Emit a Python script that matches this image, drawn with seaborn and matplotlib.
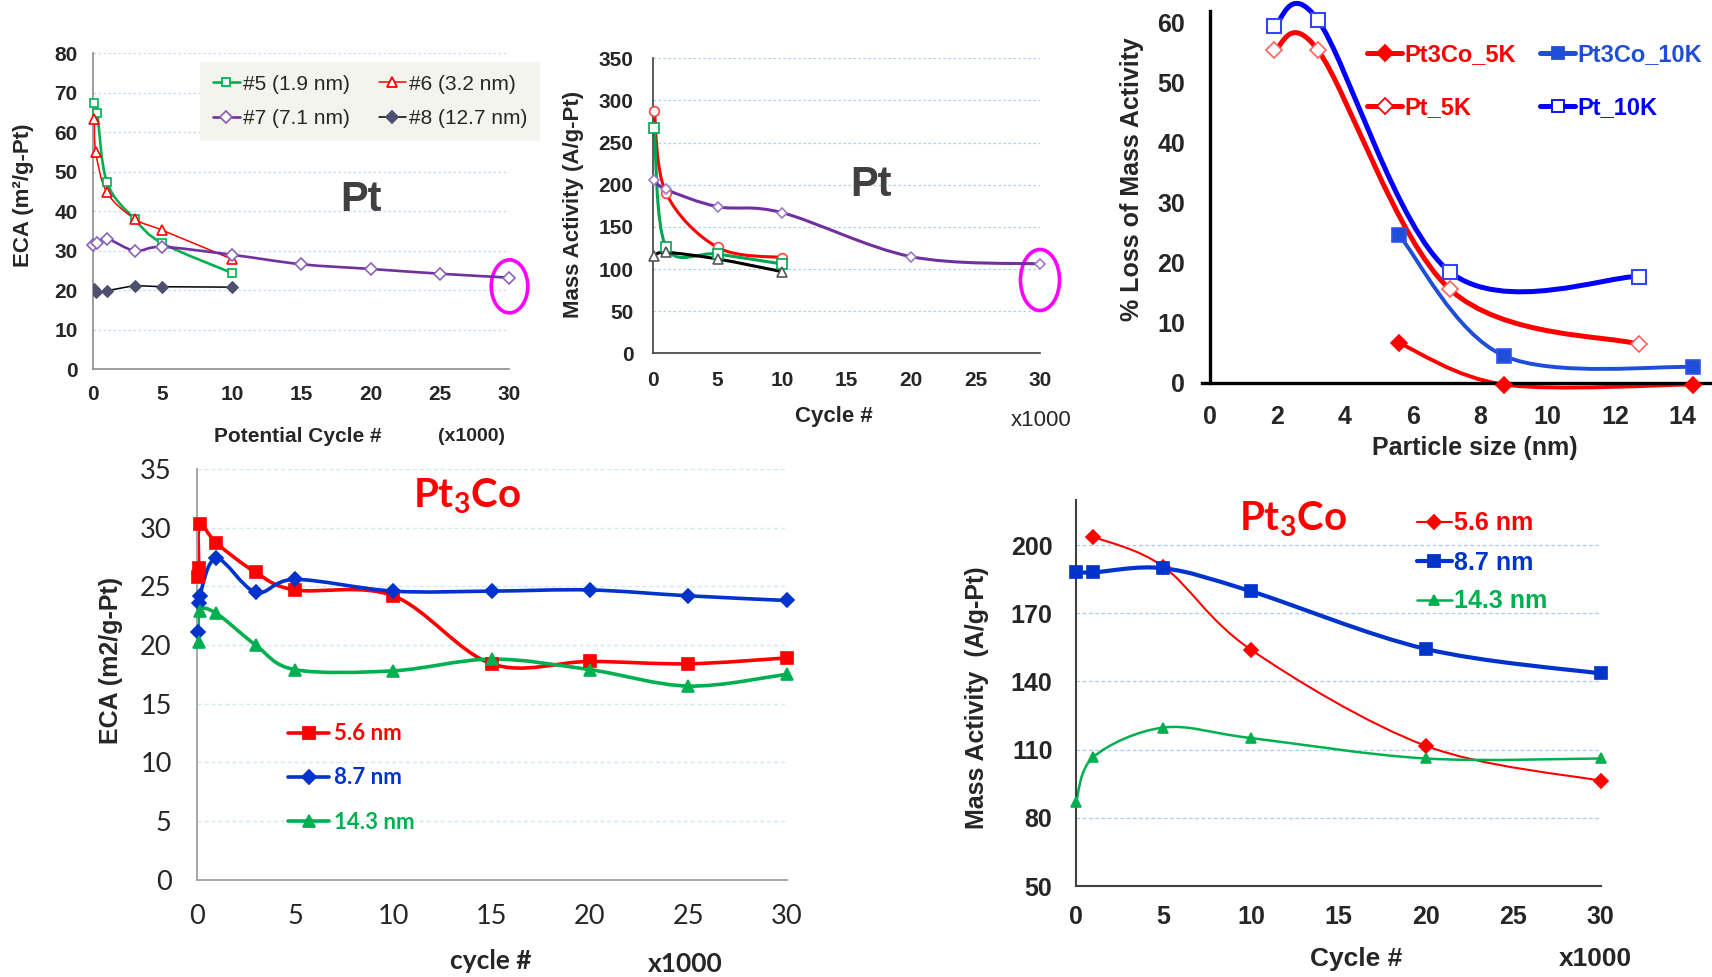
import numpy as np
import matplotlib
matplotlib.use("Agg")
import matplotlib.pyplot as plt
import seaborn as sns
from matplotlib.path import Path
from matplotlib.patches import PathPatch, Ellipse
from matplotlib.lines import Line2D
from matplotlib.ticker import MultipleLocator
from matplotlib import font_manager as fm
import matplotlib.transforms as mtransforms

# ---------------- data ----------------
# (a) Pt: ECA vs potential cycle (x1000)
pt_eca_cyc_5 = [0.1, 0.3, 1, 3, 5, 10]
pt_eca_5 = [67.3, 65.0, 47.4, 38.0, 31.9, 24.4]
pt_eca_cyc_6 = [0.1, 0.2, 1, 3, 5, 10]
pt_eca_6 = [63.4, 55.0, 44.8, 38.1, 35.2, 27.9]
pt_eca_cyc_7 = [0, 0.3, 1, 3, 5, 10, 15, 20, 25, 30]
pt_eca_7 = [31.4, 32.0, 33.1, 30.0, 31.0, 29.0, 26.6, 25.4, 24.2, 23.2]
pt_eca_cyc_8 = [0.05, 0.2, 1, 3, 5, 10]
pt_eca_8 = [20.3, 19.5, 19.9, 21.2, 20.9, 20.8]
pt_eca_labels = ["#5 (1.9 nm)", "#6 (3.2 nm)", "#7 (7.1 nm)", "#8 (12.7 nm)"]

# (b) Pt: mass activity vs cycle (x1000)
pt_ma_cyc_a = [0.1, 1, 5, 10]
pt_ma_red = [287.5, 190.6, 125.7, 113.5]
pt_ma_green = [267.7, 126.5, 117.8, 106.0]
pt_ma_black = [115.5, 119.8, 111.9, 96.9]
pt_ma_cyc_p = [0.1, 1, 5, 10, 20, 30]
pt_ma_purple = [205.6, 194.5, 174.0, 166.9, 114.7, 106.0]

# (c) % loss of mass activity vs particle size
pt_size = [1.9, 3.2, 7.1, 12.7]
pt_loss_10k = [59.4, 60.4, 18.5, 17.7]
pt_loss_5k = [55.4, 55.4, 15.6, 6.4]
pt3co_size = [5.6, 8.7, 14.3]
pt3co_loss_10k = [24.6, 4.5, 2.6]
pt3co_loss_5k = [6.6, -0.3, -0.3]
loss_labels = ["Pt3Co_5K", "Pt_5K", "Pt3Co_10K", "Pt_10K"]

# (d) Pt3Co: ECA vs cycle (x1000)
co_eca_cyc_56 = [0.05, 0.1, 0.15, 1, 3, 5, 10, 15, 20, 25, 30]
co_eca_56 = [25.8, 26.6, 30.3, 28.7, 26.2, 24.7, 24.2, 18.4, 18.6, 18.4, 18.9]
co_eca_cyc_87 = [0.05, 0.1, 0.15, 1, 3, 5, 10, 15, 20, 25, 30]
co_eca_87 = [21.1, 23.6, 24.2, 27.4, 24.5, 25.6, 24.6, 24.6, 24.7, 24.2, 23.8]
co_eca_cyc_143 = [0.1, 0.15, 1, 3, 5, 10, 15, 20, 25, 30]
co_eca_143 = [20.3, 22.9, 22.7, 20.0, 17.9, 17.8, 18.8, 17.9, 16.5, 17.5]
co_labels = ["5.6 nm", "8.7 nm", "14.3 nm"]

# (e) Pt3Co: mass activity vs cycle (x1000)
co_ma_cyc_56 = [1, 5, 10, 20, 30]
co_ma_56 = [203.6, 190.5, 154.0, 111.7, 96.3]
co_ma_cyc = [0, 1, 5, 10, 20, 30]
co_ma_87 = [188.2, 188.0, 189.8, 179.7, 154.3, 143.5]
co_ma_143 = [86.9, 106.8, 119.7, 115.1, 106.1, 106.1]

# ---------------- style ----------------
sns.set_theme(style="white")
names = {f.name for f in fm.fontManager.ttflist}
NARROW = "Liberation Sans Narrow" if "Liberation Sans Narrow" in names else "Liberation Sans"
ARIAL = "Liberation Sans"
CAL = "Lato" if "Lato" in names else "Liberation Sans"
plt.rcParams["font.family"] = [ARIAL, "DejaVu Sans"]
plt.rcParams["axes.unicode_minus"] = False

W, H = 1712, 977
fig = plt.figure(figsize=(W / 100, H / 100), dpi=100)
fig.patch.set_facecolor("white")


def rect(l, t, r, b):
    return [l / W, 1 - b / H, (r - l) / W, (b - t) / H]


def fx(x):
    return x / W


def fy(y):
    return 1 - y / H


def smooth(ax, x, y, color, lw, z=2):
    p = np.column_stack([x, y]).astype(float)
    n = len(p)
    verts = [p[0]]
    codes = [Path.MOVETO]
    for i in range(n - 1):
        a = p[i - 1] if i > 0 else p[i]
        b = p[i]
        c = p[i + 1]
        d = p[i + 2] if i + 2 < n else p[i + 1]
        verts += [b + (c - a) / 6, c - (d - b) / 6, c]
        codes += [Path.CURVE4] * 3
    ax.add_patch(PathPatch(Path(verts, codes), fc="none", ec=color, lw=lw,
                           zorder=z, capstyle="round", joinstyle="round", clip_on=False))


def marks(ax, x, y, marker, ms, mfc, mec, mew=1.2, z=3):
    sns.lineplot(x=x, y=y, ax=ax, estimator=None, sort=False, linestyle="none",
                 marker=marker, markersize=ms, markerfacecolor=mfc,
                 markeredgecolor=mec, markeredgewidth=mew, color=mec,
                 zorder=z, legend=False, clip_on=False)


def style_spines(ax, color, lw):
    for s in ["top", "right"]:
        ax.spines[s].set_visible(False)
    for s in ["left", "bottom"]:
        ax.spines[s].set_color(color)
        ax.spines[s].set_linewidth(lw)


def ticklabels(ax, family, size, weight):
    for lab in ax.get_xticklabels() + ax.get_yticklabels():
        lab.set_fontfamily(family)
        lab.set_fontsize(size)
        lab.set_fontweight(weight)


def handle(color, lw, marker, ms, mfc, mec):
    return Line2D([], [], color=color, lw=lw, marker=marker, ms=ms, mfc=mfc, mec=mec, mew=1.3)


GREEN = "#00b050"
RED = "#ff0000"
PURPLE = "#7030a0"
BLUE = "#0033cc"

# ================= Panel (a) =================
ax1 = fig.add_axes(rect(93, 53.3, 509.5, 369.3))
ax1.set_xlim(0, 30)
ax1.set_ylim(0, 80)
smooth(ax1, pt_eca_cyc_5, pt_eca_5, GREEN, 1.9)
smooth(ax1, pt_eca_cyc_6, pt_eca_6, RED, 1.1)
smooth(ax1, pt_eca_cyc_7, pt_eca_7, PURPLE, 1.9)
sns.lineplot(x=pt_eca_cyc_8, y=pt_eca_8, ax=ax1, estimator=None, sort=False,
             color="black", lw=1.1, marker="D", markersize=6.5,
             markerfacecolor="#4f4f6f", markeredgecolor="#4f4f6f", zorder=3, legend=False)
marks(ax1, pt_eca_cyc_5, pt_eca_5, "s", 6, "white", GREEN)
marks(ax1, pt_eca_cyc_6, pt_eca_6, "^", 7, "white", RED)
marks(ax1, pt_eca_cyc_7, pt_eca_7, "D", 6, "white", "#8a63b8")
style_spines(ax1, "#8c8c8c", 1.2)
ax1.xaxis.set_major_locator(MultipleLocator(5))
ax1.yaxis.set_major_locator(MultipleLocator(10))
ax1.grid(axis="y", color="#c6d9f1", lw=0.9, ls=(0, (2, 2)))
ax1.tick_params(axis="x", direction="in", length=6, color="#8c8c8c", pad=11)
ax1.tick_params(axis="y", length=0, pad=11)
ticklabels(ax1, NARROW, 15, "bold")
ax1.set_ylabel("ECA (m²/g-Pt)", fontsize=16, fontweight="bold", va="center")
ax1.yaxis.set_label_coords(fx(24), fy(195), transform=fig.transFigure)
ax1.set_xlabel("Potential Cycle #", fontsize=15, fontweight="bold", va="center", family=NARROW)
ax1.xaxis.set_label_coords(fx(298), fy(436.7), transform=fig.transFigure)
fig.text(fx(471.8), fy(436.7), "(x1000)", fontsize=14, fontweight="bold", family=NARROW,
         ha="center", va="center")
ax1.text(fx(361), fy(200), "Pt", transform=fig.transFigure, fontsize=30, fontweight="bold",
         color="#404040", ha="center", va="center")
h1 = [handle(GREEN, 1.9, "s", 6, "white", GREEN),
      handle(PURPLE, 1.9, "D", 6, "white", "#8a63b8"),
      handle(RED, 1.1, "^", 7, "white", RED),
      handle("black", 1.1, "D", 6, "#4f4f6f", "#4f4f6f")]
l1 = [pt_eca_labels[0], pt_eca_labels[2], pt_eca_labels[1], pt_eca_labels[3]]
ax1.legend(h1, l1, loc="upper left", bbox_to_anchor=(fx(200), fy(62)),
           bbox_transform=fig.transFigure, ncol=2, frameon=True, facecolor="#f4f4ef",
           edgecolor="none", fancybox=False, framealpha=1, fontsize=15,
           handlelength=1.3, handletextpad=0.15, columnspacing=1.4, borderpad=0.6,
           labelspacing=0.75, borderaxespad=0)
ax1.add_patch(Ellipse((0, 0), 0.365, 0.53, fc="none", ec="#ff00ff", lw=2.6, clip_on=False,
                      transform=fig.dpi_scale_trans + mtransforms.ScaledTranslation(30, 21, ax1.transData)))

# ================= Panel (b) =================
ax2 = fig.add_axes(rect(653, 58.3, 1040, 353.3))
ax2.set_xlim(0, 30)
ax2.set_ylim(0, 350)
smooth(ax2, pt_ma_cyc_a, pt_ma_red, RED, 2.2)
smooth(ax2, pt_ma_cyc_a, pt_ma_green, "#00a550", 2.2)
smooth(ax2, pt_ma_cyc_a, pt_ma_black, "black", 2.2)
smooth(ax2, pt_ma_cyc_p, pt_ma_purple, PURPLE, 2.2)
marks(ax2, pt_ma_cyc_a, pt_ma_red, "o", 7, "white", "#ff4040")
marks(ax2, pt_ma_cyc_a, pt_ma_green, "s", 7, "white", "#00a550")
marks(ax2, pt_ma_cyc_a, pt_ma_black, "^", 7, "white", "#555555")
marks(ax2, pt_ma_cyc_p, pt_ma_purple, "D", 5, "white", "#9c7cc8")
style_spines(ax2, "#404040", 1.2)
ax2.xaxis.set_major_locator(MultipleLocator(5))
ax2.xaxis.set_minor_locator(MultipleLocator(2.5))
ax2.yaxis.set_major_locator(MultipleLocator(50))
ax2.grid(axis="y", color="#a8d0f8", lw=0.9, ls=(0, (2, 2)))
ax2.tick_params(axis="x", which="both", direction="in", length=6, color="#404040", pad=13)
ax2.tick_params(axis="y", length=0, pad=14)
ticklabels(ax2, NARROW, 15, "bold")
ax2.set_ylabel("Mass Activity (A/g-Pt)", fontsize=16, fontweight="bold", va="center")
ax2.yaxis.set_label_coords(fx(573.6), fy(204), transform=fig.transFigure)
ax2.set_xlabel("Cycle #", fontsize=16, fontweight="bold", va="center", family=NARROW)
ax2.xaxis.set_label_coords(fx(834), fy(416.7), transform=fig.transFigure)
fig.text(fx(1041.4), fy(420.7), "x1000", fontsize=16, ha="center", va="center", family=NARROW)
ax2.text(fx(871), fy(185), "Pt", transform=fig.transFigure, fontsize=30, fontweight="bold",
         color="#404040", ha="center", va="center")
ax2.add_patch(Ellipse((0, 0), 0.39, 0.61, fc="none", ec="#ff00ff", lw=2.6, clip_on=False,
                      transform=fig.dpi_scale_trans + mtransforms.ScaledTranslation(30, 87, ax2.transData)))

# ================= Panel (c) =================
ax3 = fig.add_axes(rect(1201.6, 10.7, 1711.3, 382.7))
ax3.set_xlim(-0.25, 14.85)
ax3.set_ylim(0, 62)
smooth(ax3, pt_size, pt_loss_10k, "#0000ff", 3.6)
smooth(ax3, pt_size, pt_loss_5k, RED, 3.6)
smooth(ax3, pt3co_size, pt3co_loss_10k, "#1f4fd8", 2.8)
smooth(ax3, pt3co_size, pt3co_loss_5k, RED, 2.8)
marks(ax3, pt_size, pt_loss_10k, "s", 10, "white", "#3344ff", mew=1.5)
marks(ax3, pt_size, pt_loss_5k, "D", 8, "white", "#ff6060", mew=1.2)
marks(ax3, pt3co_size, pt3co_loss_10k, "s", 10, "#1f4fd8", "#3355ee")
marks(ax3, pt3co_size, pt3co_loss_5k, "D", 8, RED, RED)
style_spines(ax3, "black", 2.4)
ax3.spines["left"].set_position(("data", 0))
ax3.xaxis.set_major_locator(MultipleLocator(2))
ax3.xaxis.set_minor_locator(MultipleLocator(1))
ax3.yaxis.set_major_locator(MultipleLocator(10))
ax3.yaxis.set_minor_locator(MultipleLocator(2))
ax3.tick_params(which="both", direction="out", length=7, width=2, color="black")
ax3.tick_params(axis="y", pad=11)
ax3.tick_params(axis="x", pad=9)
ticklabels(ax3, ARIAL, 18, "bold")
ax3.set_ylabel("% Loss of Mass Activity", fontsize=18, fontweight="bold", va="center")
ax3.yaxis.set_label_coords(fx(1132.4), fy(179), transform=fig.transFigure)
ax3.set_xlabel("Particle size (nm)", fontsize=18, fontweight="bold", va="center")
ax3.xaxis.set_label_coords(fx(1475), fy(448.3), transform=fig.transFigure)
h3 = [handle(RED, 3.6, "D", 8, RED, RED),
      handle(RED, 3.6, "D", 8, "white", RED),
      handle("#1f4fd8", 3.6, "s", 9, "#1f4fd8", "#1f4fd8"),
      handle("#0000ff", 3.6, "s", 9, "white", "#0000ff")]
ax3.legend(h3, loss_labels, loc="upper left", bbox_to_anchor=(fx(1367), fy(43.5)),
           bbox_transform=fig.transFigure, ncol=2, frameon=False,
           prop={"family": ARIAL, "weight": "bold", "size": 17},
           labelcolor=[RED, RED, "#1f4fd8", "#0000ff"],
           handlelength=1.5, handletextpad=0.1, columnspacing=1.0, borderpad=0,
           labelspacing=1.25, borderaxespad=0)

# ================= Panel (d) =================
ax4 = fig.add_axes(rect(196.7, 469.2, 786.5, 879.5))
ax4.set_xlim(0, 30)
ax4.set_ylim(0, 35)
smooth(ax4, co_eca_cyc_56, co_eca_56, RED, 2.6)
smooth(ax4, co_eca_cyc_87, co_eca_87, BLUE, 2.6)
smooth(ax4, co_eca_cyc_143, co_eca_143, GREEN, 2.6)
marks(ax4, co_eca_cyc_56, co_eca_56, "s", 9, RED, RED)
marks(ax4, co_eca_cyc_87, co_eca_87, "D", 7, BLUE, BLUE)
marks(ax4, co_eca_cyc_143, co_eca_143, "^", 9, GREEN, GREEN)
style_spines(ax4, "#a6a6a6", 1.4)
ax4.xaxis.set_major_locator(MultipleLocator(5))
ax4.yaxis.set_major_locator(MultipleLocator(5))
ax4.grid(axis="y", color="#d2e9f0", lw=1.0, ls=(0, (3, 2)))
ax4.tick_params(which="both", direction="out", length=6, width=1.2, color="#a6a6a6")
ax4.tick_params(axis="y", pad=12)
ax4.tick_params(axis="x", pad=12)
ticklabels(ax4, CAL, 19.5, "normal")
ax4.set_ylabel("ECA (m2/g-Pt)", fontsize=18, fontweight="bold", va="center")
ax4.yaxis.set_label_coords(fx(110.9), fy(660.9), transform=fig.transFigure)
ax4.set_xlabel("cycle #", fontsize=19, fontweight="bold", va="center", family=CAL)
ax4.xaxis.set_label_coords(fx(491), fy(961), transform=fig.transFigure)
fig.text(fx(685), fy(964), "x1000", fontsize=19, fontweight="bold", family=CAL,
         ha="center", va="center")
ax4.text(fx(467), fy(496.5), r"Pt$\mathregular{_3}$Co", transform=fig.transFigure,
         fontsize=29, color=RED, family=CAL, fontweight="bold", ha="center", va="center")
h4 = [handle(RED, 2.6, "s", 9, RED, RED),
      handle(BLUE, 2.6, "D", 7, BLUE, BLUE),
      handle(GREEN, 2.6, "^", 9, GREEN, GREEN)]
ax4.legend(h4, co_labels, loc="upper left", bbox_to_anchor=(fx(288), fy(723.3)),
           bbox_transform=fig.transFigure, frameon=False,
           prop={"family": CAL, "weight": "bold", "size": 16},
           labelcolor=[RED, BLUE, GREEN], handlelength=1.85, handletextpad=0.22,
           borderpad=0, labelspacing=1.04, borderaxespad=0)

# ================= Panel (e) =================
ax5 = fig.add_axes(rect(1076, 499.6, 1600.5, 886))
ax5.set_xlim(0, 30)
ax5.set_ylim(50, 220)
smooth(ax5, co_ma_cyc_56, co_ma_56, RED, 1.5)
smooth(ax5, co_ma_cyc, co_ma_87, BLUE, 3.0)
smooth(ax5, co_ma_cyc, co_ma_143, GREEN, 1.8)
marks(ax5, co_ma_cyc_56, co_ma_56, "D", 7, RED, RED)
marks(ax5, co_ma_cyc, co_ma_87, "s", 8.5, BLUE, BLUE)
marks(ax5, co_ma_cyc, co_ma_143, "^", 7.5, GREEN, GREEN)
style_spines(ax5, "#404040", 1.5)
ax5.xaxis.set_major_locator(MultipleLocator(5))
ax5.xaxis.set_minor_locator(MultipleLocator(2.5))
ax5.yaxis.set_major_locator(MultipleLocator(30, offset=20))
ax5.yaxis.set_minor_locator(MultipleLocator(10))
ax5.grid(axis="y", which="major", color="#a8ccf8", lw=0.9, ls=(0, (3, 2)))
ax5.tick_params(which="both", direction="out", length=6, width=1.2, color="#404040")
ax5.tick_params(axis="y", pad=11)
ax5.tick_params(axis="x", pad=8)
ticklabels(ax5, ARIAL, 18, "bold")
ax5.set_ylabel("Mass Activity  (A/g-Pt)", fontsize=18, fontweight="bold", va="center")
ax5.yaxis.set_label_coords(fx(977), fy(697.7), transform=fig.transFigure)
ax5.set_xlabel("Cycle #", fontsize=19, fontweight="bold", va="center")
ax5.xaxis.set_label_coords(fx(1356), fy(958.8), transform=fig.transFigure)
fig.text(fx(1595), fy(958.8), "x1000", fontsize=19, fontweight="bold", ha="center", va="center")
ax5.text(fx(1293), fy(519), r"Pt$\mathregular{_3}$Co", transform=fig.transFigure,
         fontsize=29, color=RED, family=CAL, fontweight="bold", ha="center", va="center")
h5 = [handle(RED, 1.5, "D", 7, RED, RED),
      handle(BLUE, 3.0, "s", 8.5, BLUE, BLUE),
      handle(GREEN, 1.8, "^", 7.5, GREEN, GREEN)]
ax5.legend(h5, co_labels, loc="upper left", bbox_to_anchor=(fx(1416.6), fy(511.5)),
           bbox_transform=fig.transFigure, frameon=False,
           prop={"family": ARIAL, "weight": "bold", "size": 18},
           labelcolor=[RED, BLUE, GREEN], handlelength=1.4, handletextpad=0.1,
           borderpad=0, labelspacing=0.6, borderaxespad=0)

fig.savefig("out.png", dpi=100, facecolor="white")
